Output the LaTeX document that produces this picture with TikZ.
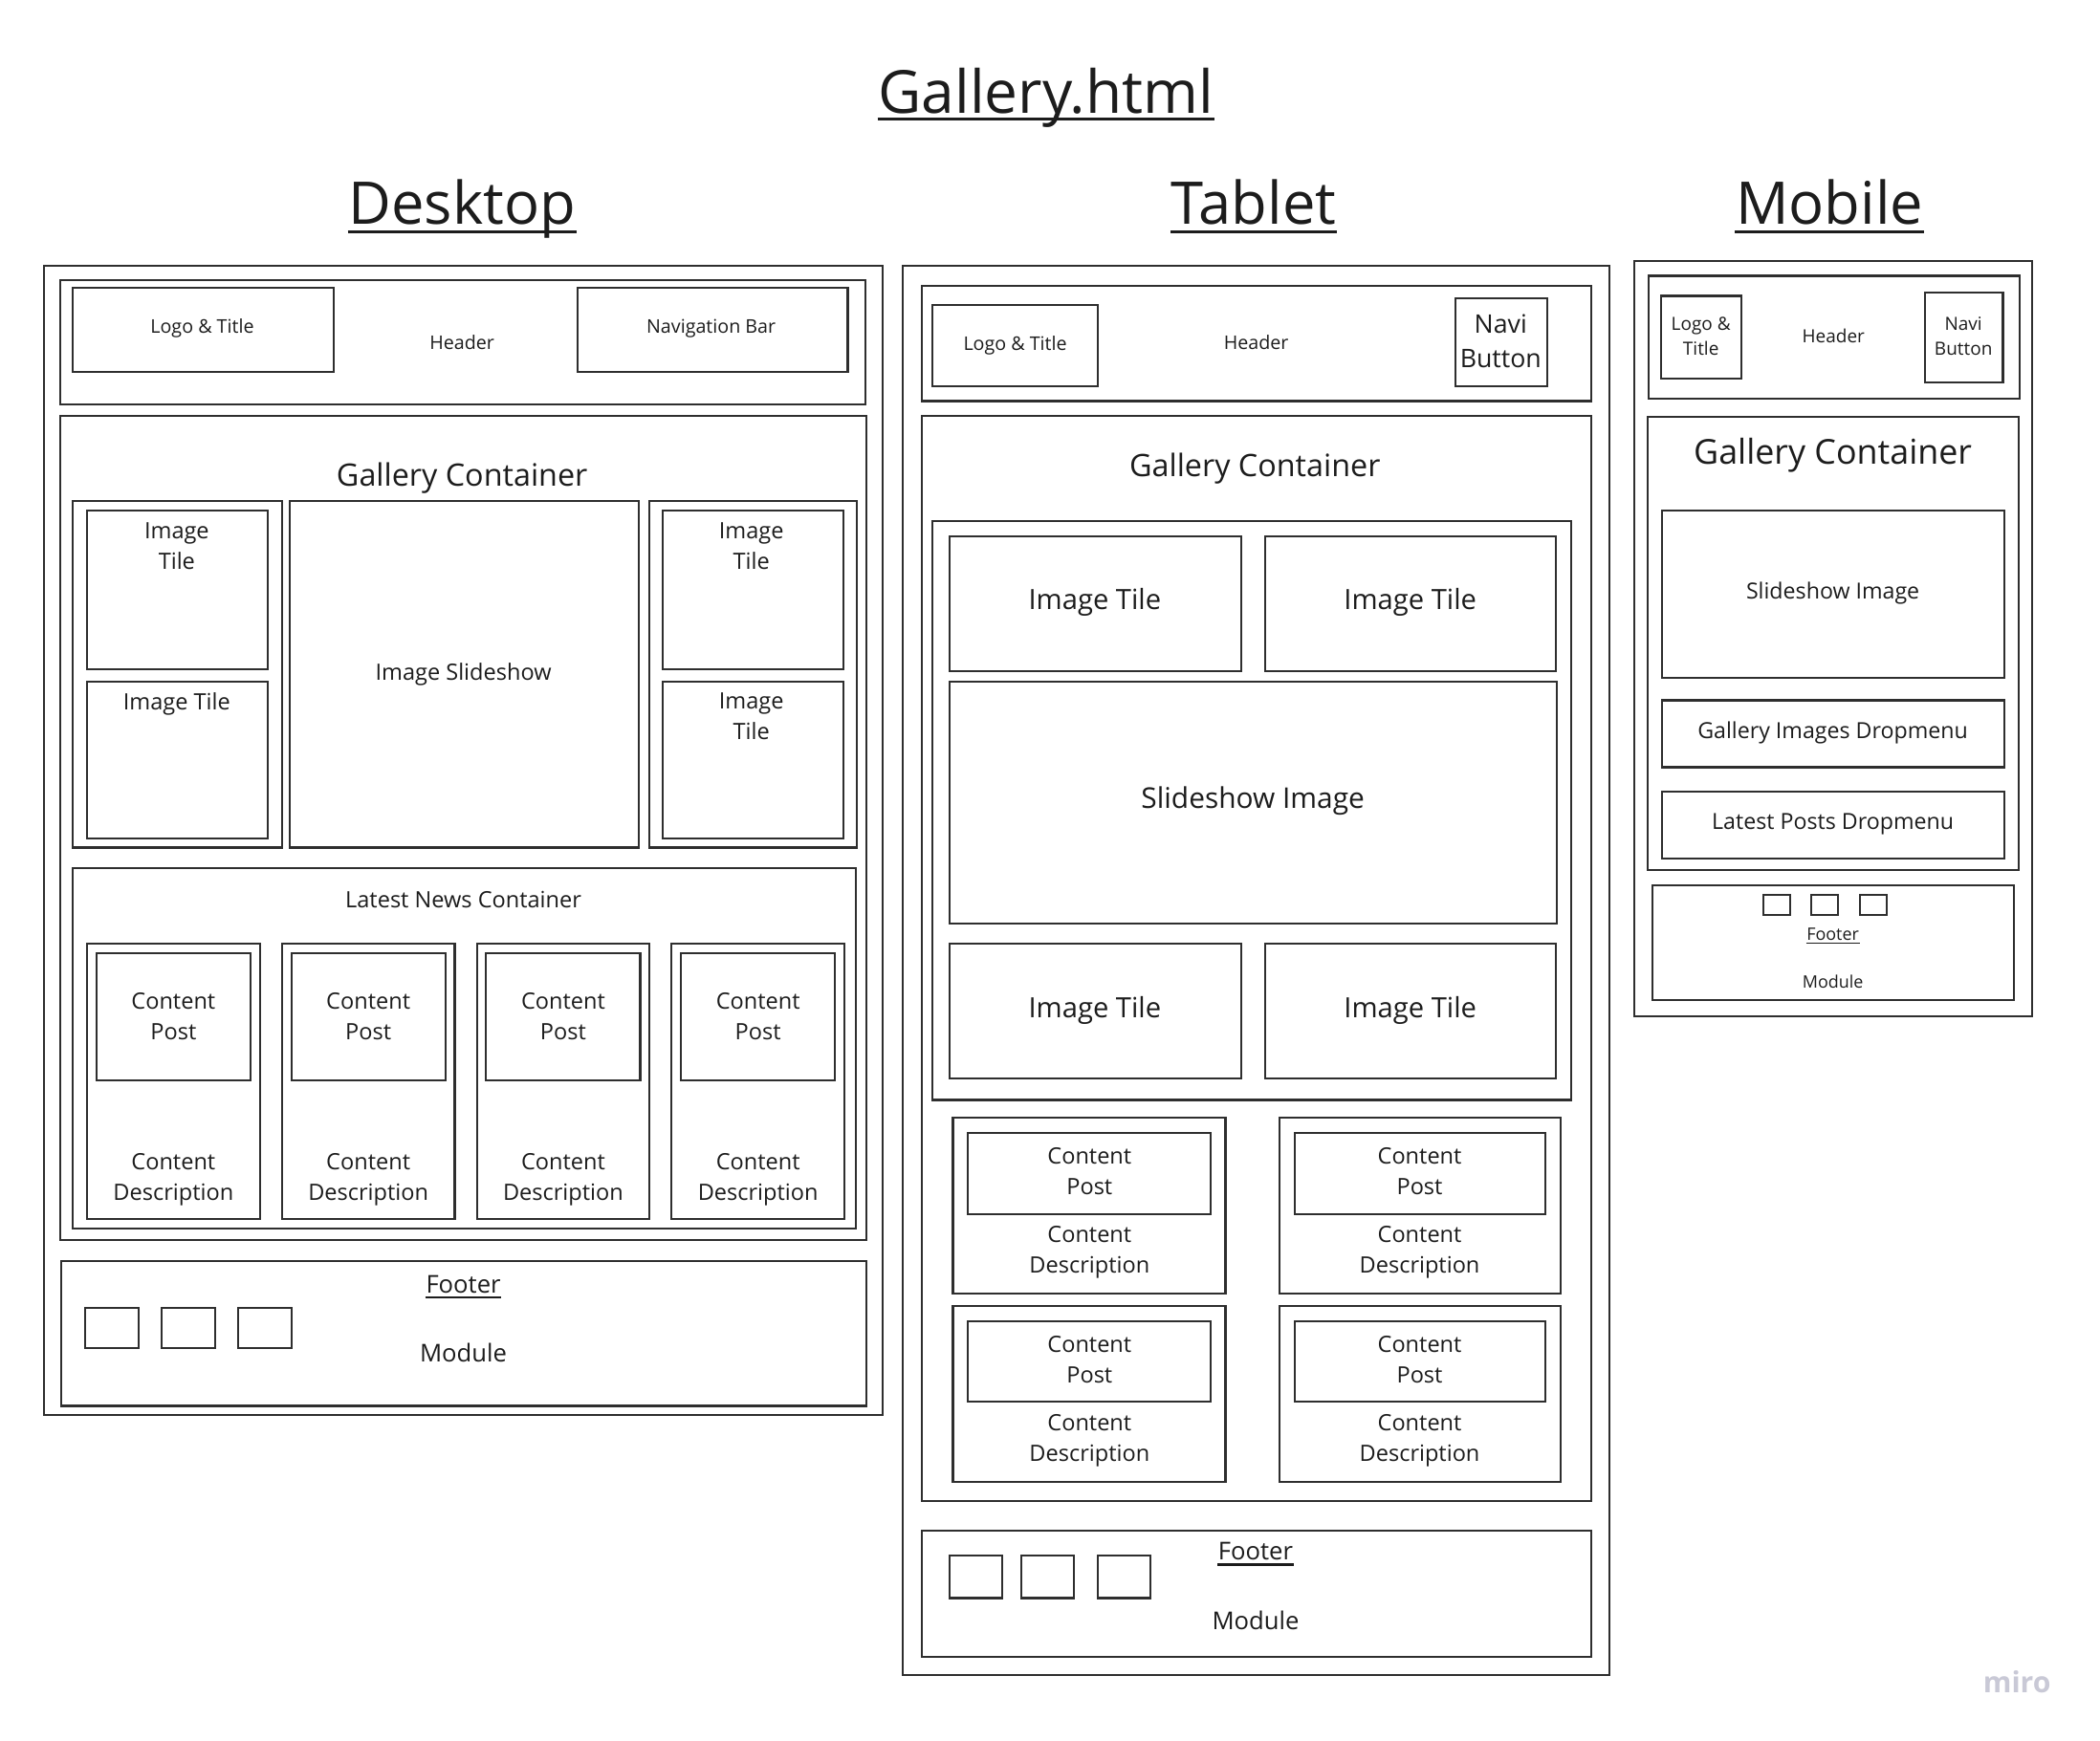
\documentclass[tikz,border=0pt]{standalone}
\usepackage{fontspec}
\setmainfont{Open Sans}
\definecolor{edge}{HTML}{2E2E2E}
\definecolor{ink}{HTML}{1C1C1C}
\definecolor{mark}{HTML}{C9C9D6}
% font size with proportional leading
\newcommand\fsz[1]{\fontsize{#1}{\dimexpr#1*136/100\relax}\selectfont}
% framed box from corner coordinates: name, x1, y1, x2, y2
\newcommand\rect[5]{\node[box, minimum width={((#4)-(#2))*0.014cm}, minimum height={((#5)-(#3))*0.014cm}] (#1) at ({((#2)+(#4))/2},{((#3)+(#5))/2}) {};}
% underlined text: name, x, baseline y, size, rule width, rule drop (px), text
\newcommand\uhead[7]{%
  \node[lbl, font=\fsz{#4}, anchor=base] (#1) at (#2,#3) {#7};
  \draw[ink, line width=#5] ([yshift={-#6*0.014cm}]#1.base west) -- ([yshift={-#6*0.014cm}]#1.base east);}
\begin{document}
\begin{tikzpicture}[x=0.014cm, y=-0.014cm,
  box/.style={draw=edge, line width=0.6pt, inner sep=0pt, outer sep=0pt},
  lbl/.style={text=ink, inner sep=0pt, align=center},
  tsmall/.style={lbl, font=\fsz{5.6pt}},
  tmid/.style={lbl, font=\fsz{6.7pt}},
  tfoot/.style={lbl, font=\fsz{7.3pt}},
  tgal/.style={lbl, font=\fsz{9.2pt}},
  ttab/.style={lbl, font=\fsz{8.3pt}},
  tmob/.style={lbl, font=\fsz{5.4pt}},
  tmobm/.style={lbl, font=\fsz{6.6pt}}]
\useasboundingbox (0,0) rectangle (1568,1300);

% ---------- titles ----------
\uhead{title}{781}{84.5}{17.7pt}{0.8pt}{4.5}{Gallery.html}
\uhead{hDesk}{345}{167.5}{17.5pt}{0.8pt}{5.5}{Desktop}
\uhead{hTab}{936}{167.5}{17.5pt}{0.8pt}{5.5}{Tablet}
\uhead{hMob}{1366}{167.5}{17.5pt}{0.8pt}{5.5}{Mobile}

% ---------- desktop ----------
\rect{dFrame}{33}{198.5}{659}{1057}
\rect{dHead}{45}{209}{646}{302}
\rect{dLogo}{54.5}{215}{249}{278}
\node[tsmall] (dLogoT) at (151,245.5) {Logo \& Title};
\node[tsmall] (dHeadT) at (345,255.5) {Header};
\rect{dNav}{431}{215}{633}{278}
\node[tsmall] (dNavT) at (531,245.5) {Navigation Bar};

\rect{dGal}{45}{310.5}{647}{926}
\node[tgal] (dGalT) at (345,357) {Gallery Container};
\rect{dColL}{54.5}{374}{210.5}{633}
\rect{dTileA}{65}{381.5}{200}{499.5}
\node[tmid, anchor=north] (dTileAT) at (132,390) {Image\\Tile};
\rect{dTileB}{65}{509}{200}{626.5}
\node[tmid, anchor=north] (dTileBT) at (132,517) {Image Tile};
\rect{dSlide}{216.5}{374}{477}{633}
\node[tmid] (dSlideT) at (346,504) {Image Slideshow};
\rect{dColR}{484.5}{374}{639.5}{633}
\rect{dTileC}{495}{381.5}{629.5}{499.5}
\node[tmid, anchor=north] (dTileCT) at (561,390) {Image\\Tile};
\rect{dTileD}{495}{509}{629.5}{626.5}
\node[tmid, anchor=north] (dTileDT) at (561,517) {Image\\Tile};

\rect{dNews}{54.5}{648.5}{639}{917.5}
\node[tmid] (dNewsT) at (346,672) {Latest News Container};
\foreach \x/\i in {65/1,210.5/2,356/3,501.5/4}{
  \rect{dCard\i}{\x}{704.5}{\x+129}{910.5}
  \rect{dPost\i}{\x+7}{712}{\x+122}{807}
  \node[tmid] (dPostT\i) at ({\x+64.5},759) {Content\\Post};
  \node[tmid] (dDescT\i) at ({\x+64.5},881) {Content\\Description};
}

\rect{dFoot}{46}{942}{647}{1050}
\uhead{dFootT}{346}{965.5}{7.3pt}{0.6pt}{3.5}{Footer}
\rect{dSq1}{63.5}{976.5}{103.5}{1006.5}
\rect{dSq2}{120.5}{976.5}{160.5}{1006.5}
\rect{dSq3}{177.5}{976.5}{217.5}{1006.5}
\node[tfoot] (dModT) at (346,1010) {Module};

% ---------- tablet ----------
\rect{tFrame}{674}{198.5}{1202}{1251}
\rect{tHead}{688}{213.5}{1188}{299.5}
\rect{tLogo}{696}{227.5}{820}{288.5}
\node[tsmall] (tLogoT) at (758,258) {Logo \& Title};
\node[tsmall] (tHeadT) at (938,256) {Header};
\rect{tNavi}{1086.5}{223}{1155}{288.5}
\node[lbl, font=\fsz{7.6pt}] (tNaviT) at (1120.5,255) {Navi\\Button};

\rect{tGal}{688}{310.5}{1188}{1121}
\node[tgal] (tGalT) at (937,350) {Gallery Container};
\rect{tInner}{696}{389}{1173}{821.5}
\rect{tTile1}{709}{400.5}{926.5}{501}
\node[ttab] (tTile1T) at (817.5,450) {Image Tile};
\rect{tTile2}{944.5}{400.5}{1162}{501}
\node[ttab] (tTile2T) at (1053,450) {Image Tile};
\rect{tSlide}{709}{509}{1162.5}{689.5}
\node[lbl, font=\fsz{8.5pt}] (tSlideT) at (935.5,598) {Slideshow Image};
\rect{tTile3}{709}{705}{926.5}{805.5}
\node[ttab] (tTile3T) at (817.5,755) {Image Tile};
\rect{tTile4}{944.5}{705}{1162}{805.5}
\node[ttab] (tTile4T) at (1053,755) {Image Tile};

\foreach \x/\xx/\c in {711.5/915/813.5,955.5/1165/1060}{
  \foreach \y/\r in {835/a,975.5/b}{
    \rect{tCard\c\r}{\x}{\y}{\xx}{\y+131}
    \rect{tPost\c\r}{\x+11}{\y+11}{\xx-11}{\y+71.5}
    \node[tmid] (tPostT\c\r) at (\c,{\y+40}) {Content\\Post};
    \node[tmid] (tDescT\c\r) at (\c,{\y+100.5}) {Content\\Description};
  }
}

\rect{tFoot}{688}{1143}{1188}{1237.5}
\uhead{tFootT}{937.5}{1165}{7.3pt}{0.6pt}{3.5}{Footer}
\rect{tSq1}{709}{1162}{748.5}{1193.5}
\rect{tSq2}{762.5}{1162}{802}{1193.5}
\rect{tSq3}{819.5}{1162}{859}{1193.5}
\node[tfoot] (tModT) at (937.5,1210) {Module};

% ---------- mobile ----------
\rect{mFrame}{1220}{195}{1517.5}{759}
\rect{mHead}{1231}{206}{1508}{298}
\rect{mLogo}{1240.5}{221}{1300}{283}
\node[tmob] (mLogoT) at (1270,251) {Logo \&\\Title};
\node[tmob] (mHeadT) at (1369,251) {Header};
\rect{mNavi}{1437}{218.5}{1495.5}{285.5}
\node[tmob] (mNaviT) at (1466,251) {Navi\\Button};

\rect{mGal}{1230}{311}{1507}{650}
\node[lbl, font=\fsz{10.2pt}] (mGalT) at (1368.5,340) {Gallery Container};
\rect{mSlide}{1241}{381.5}{1496.5}{506.5}
\node[tmobm] (mSlideT) at (1368.5,443) {Slideshow Image};
\rect{mDrop1}{1241}{523}{1496.5}{573}
\node[tmobm] (mDrop1T) at (1368.5,547.5) {Gallery Images Dropmenu};
\rect{mDrop2}{1241}{591}{1496.5}{641}
\node[tmobm] (mDrop2T) at (1368.5,615.5) {Latest Posts Dropmenu};

\rect{mFoot}{1233.5}{661}{1503.5}{747}
\rect{mSq1}{1316.5}{668.5}{1336.5}{683}
\rect{mSq2}{1352.5}{668.5}{1372.5}{683}
\rect{mSq3}{1389}{668.5}{1409}{683}
\uhead{mFootT}{1368.5}{702}{5.1pt}{0.45pt}{2.5}{Footer}
\node[lbl, font=\fsz{5.1pt}] (mModT) at (1368.5,733) {Module};

% ---------- watermark ----------
\node[lbl, text=mark, font=\fsz{8.6pt}\bfseries] (brand) at (1506,1256) {miro};
\end{tikzpicture}
\end{document}
